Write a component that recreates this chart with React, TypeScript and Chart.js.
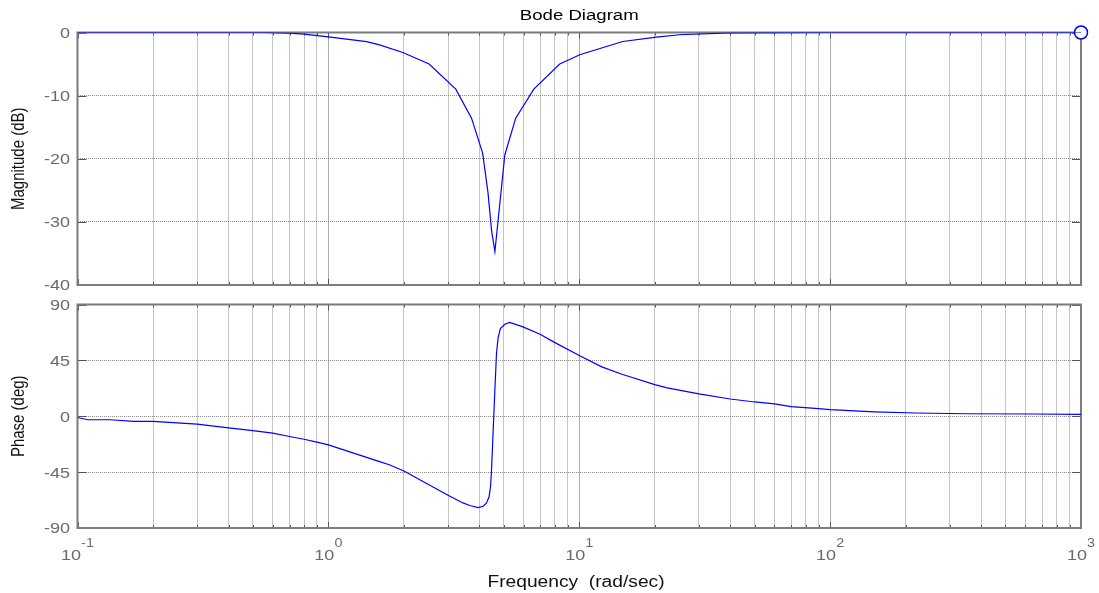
import { useEffect, useRef } from "react";
import { Chart, registerables } from "chart.js";

Chart.register(...registerables);

// Magnitude response samples (rad/sec, dB)
const magFreq = [0.1, 0.2, 0.4, 0.55, 0.7, 0.8, 1.0, 1.42, 1.6, 1.98, 2.52, 3.22, 3.72, 4.12, 4.33, 4.47, 4.61, 4.75, 5.05, 5.58, 6.59, 8.36, 10.05, 14.9, 20.3, 25.1, 40, 100, 1000];
const magDb = [0, 0, 0, 0, -0.1, -0.25, -0.7, -1.46, -1.95, -3.17, -5.0, -8.97, -13.57, -19.1, -25.45, -31.3, -34.7, -29.7, -19.4, -13.57, -8.97, -5.0, -3.53, -1.43, -0.73, -0.36, -0.05, 0, 0];

// Phase response samples (rad/sec, deg)
const phaseFreq = [0.1, 0.11, 0.135, 0.167, 0.2, 0.3, 0.4, 0.5, 0.6, 0.7, 0.8, 0.9, 1.0, 1.6, 1.76, 2.0, 3.0, 3.44, 3.66, 3.95, 4.14, 4.27, 4.37, 4.43, 4.47, 4.54, 4.61, 4.68, 4.75, 4.85, 5.05, 5.28, 5.93, 6.98, 8.0, 10, 12.3, 14.9, 20, 22.4, 30, 40, 50, 60, 70, 90, 100, 150, 220, 349, 643, 1000];
const phaseDeg = [-1.0, -2.8, -2.8, -4.2, -4.2, -6.3, -9.3, -11.5, -13.6, -16.3, -18.5, -20.9, -23.1, -36.6, -39.3, -44.1, -63.6, -69.8, -71.9, -73.5, -72.5, -69.8, -64.9, -56.8, -43.3, -10.9, 21.5, 51.2, 63.3, 70.6, 74.1, 75.5, 72.2, 66.0, 59.3, 49.0, 39.8, 33.6, 25.5, 22.8, 18.0, 13.9, 11.5, 9.9, 7.7, 6.1, 5.3, 3.6, 2.6, 2.0, 1.8, 1.5];

// Axis ticks
const decades = [0.1, 1, 10, 100, 1000];
const decadeExponents = ["-1", "0", "1", "2", "3"];
const decadeSteps = [1, 2, 3, 4, 5, 6, 7, 8, 9];
const magTicks = [0, -10, -20, -30, -40];
const phaseTicks = [90, 45, 0, -45, -90];

const FRAME_W = 1099;
const TOP_H = 295;
const BOTTOM_H = 298;
const PLOT_LEFT = 77.5;
const PLOT_RIGHT = 1081;
const SX = 1.2;
const FONT = '"Liberation Sans", Arial, sans-serif';
const TICK_COLOR = "#6a6a6a";
const LABEL_COLOR = "#111111";

const gridFreqs: number[] = [];
decades.slice(0, -1).forEach((d) => decadeSteps.forEach((s) => gridFreqs.push(+(d * s).toPrecision(3))));
gridFreqs.push(decades[decades.length - 1]);

const isDecade = (v: number) => decades.some((d) => Math.abs(d - v) / d < 1e-6);

function stretchedText(ctx: CanvasRenderingContext2D, text: string, x: number, y: number, font: string, color: string, align: CanvasTextAlign) {
  ctx.save();
  ctx.translate(x, y);
  ctx.scale(SX, 1);
  ctx.font = font;
  ctx.fillStyle = color;
  ctx.textAlign = align;
  ctx.textBaseline = "alphabetic";
  ctx.fillText(text, 0, 0);
  ctx.restore();
}

type PanelSpec = {
  freq: number[];
  values: number[];
  yMin: number;
  yMax: number;
  yTicks: number[];
  height: number;
  plotTop: number;
  plotBottom: number;
  yTitle: string;
  title?: string;
  showFreqLabels?: boolean;
  endMarker?: boolean;
};

function buildChart(canvas: HTMLCanvasElement, spec: PanelSpec) {
  const decor = {
    id: "panelDecor",
    beforeDatasetsDraw(chart: any) {
      const { ctx, chartArea } = chart;
      const { left, right, top, bottom } = chartArea;
      const xs = chart.scales.x;
      const ys = chart.scales.y;
      ctx.save();
      // tick marks pointing inward
      ctx.strokeStyle = "#555";
      ctx.lineWidth = 1;
      ctx.beginPath();
      spec.yTicks.forEach((v) => {
        const py = Math.round(ys.getPixelForValue(v)) + 0.5;
        ctx.moveTo(left, py);
        ctx.lineTo(left + 9, py);
        ctx.moveTo(right - 9, py);
        ctx.lineTo(right, py);
      });
      gridFreqs.forEach((f) => {
        const px = Math.round(xs.getPixelForValue(f)) + 0.5;
        const len = isDecade(f) ? 6 : 3;
        ctx.moveTo(px, top);
        ctx.lineTo(px, top + len);
        ctx.moveTo(px, bottom);
        ctx.lineTo(px, bottom - len);
      });
      ctx.stroke();
      // axes box
      ctx.strokeStyle = "#7c7c7c";
      ctx.lineWidth = 2;
      ctx.strokeRect(left, top, right - left, bottom - top);
      ctx.restore();
    },
    afterDraw(chart: any) {
      const { ctx, chartArea } = chart;
      const { left, right, top, bottom } = chartArea;
      const xs = chart.scales.x;
      const ys = chart.scales.y;
      const tickFont = `15px ${FONT}`;
      spec.yTicks.forEach((v) => {
        const py = ys.getPixelForValue(v);
        stretchedText(ctx, String(v), 70, py + 5.4, tickFont, TICK_COLOR, "right");
      });
      // rotated axis title
      ctx.save();
      ctx.translate(19.5, (top + bottom) / 2);
      ctx.scale(SX, 1);
      ctx.rotate(-Math.PI / 2);
      ctx.font = `15px ${FONT}`;
      ctx.fillStyle = LABEL_COLOR;
      ctx.textAlign = "center";
      ctx.textBaseline = "middle";
      ctx.fillText(spec.yTitle, 0, 0);
      ctx.restore();

      if (spec.title) {
        stretchedText(ctx, spec.title, (left + right) / 2, 19.5, `15.5px ${FONT}`, "#000", "center");
      }
      if (spec.showFreqLabels) {
        const baseY = bottom + 32;
        decades.forEach((d, i) => {
          const px = xs.getPixelForValue(d);
          ctx.save();
          ctx.font = `15px ${FONT}`;
          const w1 = ctx.measureText("10").width * SX;
          ctx.font = `12px ${FONT}`;
          const w2 = ctx.measureText(decadeExponents[i]).width * SX;
          ctx.restore();
          const start = px - (w1 + w2) / 2;
          stretchedText(ctx, "10", start, baseY, `15px ${FONT}`, TICK_COLOR, "left");
          stretchedText(ctx, decadeExponents[i], start + w1, baseY - 13, `12px ${FONT}`, TICK_COLOR, "left");
        });
        stretchedText(ctx, "Frequency  (rad/sec)", 576, bottom + 59, `16px ${FONT}`, LABEL_COLOR, "center");
      }
    },
  };

  const lastIdx = spec.freq.length - 1;
  const datasets: any[] = [
    {
      data: spec.freq.map((f, i) => ({ x: f, y: spec.values[i] })),
      borderColor: "#0000ff",
      borderWidth: 1.2,
      pointRadius: 0,
      tension: 0,
      fill: false,
    },
  ];
  if (spec.endMarker) {
    datasets.push({
      data: [{ x: spec.freq[lastIdx], y: spec.values[lastIdx] }],
      showLine: false,
      pointRadius: 6.5,
      pointBorderWidth: 1.5,
      pointBorderColor: "#0000ff",
      pointBackgroundColor: "#ffffff",
      clip: false,
    });
  }

  return new Chart(canvas, {
    type: "line",
    data: { datasets },
    plugins: [decor],
    options: {
      responsive: false,
      animation: false,
      devicePixelRatio: 1,
      events: [],
      layout: { padding: { left: 0, right: FRAME_W - PLOT_RIGHT, top: spec.plotTop, bottom: 0 } },
      plugins: { legend: { display: false }, tooltip: { enabled: false }, title: { display: false } },
      scales: {
        x: {
          type: "logarithmic",
          min: 0.1,
          max: 1000,
          position: "bottom",
          afterBuildTicks: (s: any) => {
            s.ticks = gridFreqs.map((v) => ({ value: v }));
          },
          afterFit: (s: any) => {
            s.height = spec.height - spec.plotBottom;
          },
          ticks: { display: false, autoSkip: false },
          grid: {
            drawTicks: false,
            lineWidth: 1,
            color: (c: any) => (isDecade(c.tick?.value ?? 0) ? "#5a5a5a" : "#8a8a8a"),
          },
          border: { display: false, dash: [1, 1] },
        },
        y: {
          type: "linear",
          min: spec.yMin,
          max: spec.yMax,
          afterBuildTicks: (s: any) => {
            s.ticks = spec.yTicks.map((v) => ({ value: v }));
          },
          afterFit: (s: any) => {
            s.width = PLOT_LEFT;
          },
          ticks: { display: false, autoSkip: false },
          grid: { drawTicks: false, lineWidth: 1, color: "#8a8a8a" },
          border: { display: false, dash: [1, 1] },
        },
      },
    } as any,
  });
}

export default function App() {
  const topRef = useRef<HTMLCanvasElement>(null);
  const bottomRef = useRef<HTMLCanvasElement>(null);

  useEffect(() => {
    const magChart = buildChart(topRef.current!, {
      freq: magFreq,
      values: magDb,
      yMin: -40,
      yMax: 0,
      yTicks: magTicks,
      height: TOP_H,
      plotTop: 32.5,
      plotBottom: 285,
      yTitle: "Magnitude (dB)",
      title: "Bode Diagram",
      endMarker: true,
    });
    const phaseChart = buildChart(bottomRef.current!, {
      freq: phaseFreq,
      values: phaseDeg,
      yMin: -90,
      yMax: 90,
      yTicks: phaseTicks,
      height: BOTTOM_H,
      plotTop: 9.5,
      plotBottom: 233,
      yTitle: "Phase (deg)",
      showFreqLabels: true,
    });
    return () => {
      magChart.destroy();
      phaseChart.destroy();
    };
  }, []);

  return (
    <div style={{ position: "fixed", left: 0, top: 0, width: FRAME_W, height: TOP_H + BOTTOM_H, background: "#ffffff" }}>
      <canvas ref={topRef} width={FRAME_W} height={TOP_H} style={{ position: "absolute", left: 0, top: 0, width: FRAME_W, height: TOP_H }} />
      <canvas ref={bottomRef} width={FRAME_W} height={BOTTOM_H} style={{ position: "absolute", left: 0, top: TOP_H, width: FRAME_W, height: BOTTOM_H }} />
    </div>
  );
}
